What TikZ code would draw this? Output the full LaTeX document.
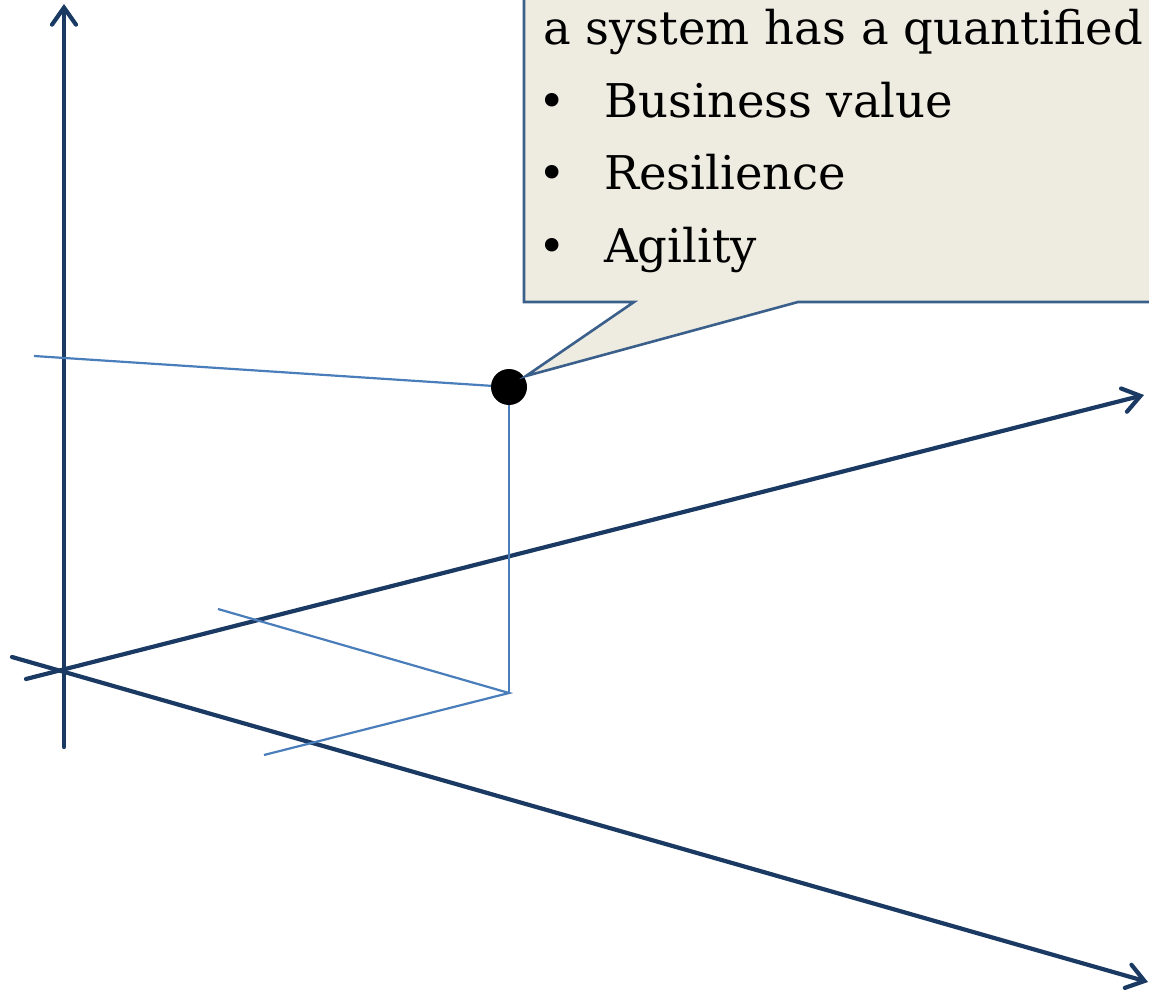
\documentclass[tikz,border=0pt]{standalone}
\usepackage{fontspec}
\setmainfont{DejaVu Serif}
\usetikzlibrary{arrows.meta}
\definecolor{axisnavy}{HTML}{1B3A63}
\definecolor{guideblue}{HTML}{4A7EBB}
\definecolor{calloutedge}{HTML}{3A5F8B}
\definecolor{calloutfill}{HTML}{EEECE1}
\begin{document}
\begin{tikzpicture}[x=1pt,y=-1pt,
  axis/.style={draw=axisnavy,line width=4.2pt,line cap=round,
    -{Straight Barb[length=17pt,width=24pt,line width=4.2pt,line cap=round]}},
  guide/.style={draw=guideblue,line width=2.2pt},
  calloutbox/.style={draw=calloutedge,fill=calloutfill,line width=2.6pt,line join=miter},
  bodytext/.style={anchor=base west,inner sep=0pt,font=\fontsize{46.5}{72}\selectfont},
  marker/.style={circle,fill=black,minimum size=36pt,inner sep=0pt},
]
\useasboundingbox (0,0) rectangle (1149,995);

% axis end points
\coordinate (zlow) at (64,747);
\coordinate (ztop) at (64,4);
\coordinate (xlow) at (26,679);
\coordinate (xtip) at (1144,395);
\coordinate (ylow) at (12,657);
\coordinate (ytip) at (1148,982);

% three axes
\draw[axis] (zlow) -- (ztop);
\draw[axis] (xlow) -- (xtip);
\draw[axis] (ylow) -- (ytip);

% projection guides of the point
\coordinate (pc) at (509,387);
\coordinate (gleft) at (34,356);
\coordinate (foot) at (509,693);
\coordinate (gback) at (218,609);
\coordinate (gfront) at (264,755);
\draw[guide] (gleft) -- (pc);
\draw[guide] (pc) -- (foot);
\draw[guide] (gback) -- (foot) -- (gfront);

% the point itself
\node[marker] (pt) at (pc) {};

% callout with its tail
\coordinate (tip) at (526,376);
\coordinate (tailL) at (634,302);
\coordinate (tailR) at (798,302);
\draw[calloutbox] (524,-20) -- (524,302) -- (tailL) -- (tip) -- (tailR)
  -- (1170,302) -- (1170,-20) -- cycle;

% callout text
\node[bodytext] (l0) at (543,45) {a system has a quantified};
\node[bodytext] (d1) at (538,118) {•};
\node[bodytext] (t1) at (604,118) {Business value};
\node[bodytext] (d2) at (538,190) {•};
\node[bodytext] (t2) at (604,190) {Resilience};
\node[bodytext] (d3) at (538,262) {•};
\node[bodytext] (t3) at (604,262) {Agility};
\end{tikzpicture}
\end{document}
